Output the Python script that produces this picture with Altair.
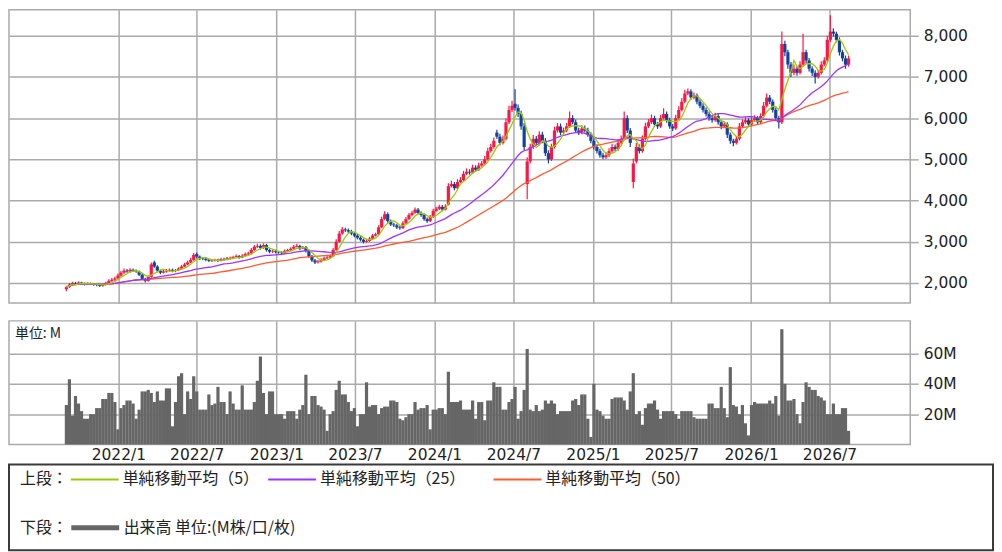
import altair as alt
import pandas as pd

# ---------------- data (weekly candles) ----------------
FIRST_WEEK = "2021-09-03"

OPEN = [
    1850, 1900, 1960, 2000, 1990, 2010, 1980, 1970, 1990, 1980,
    1960, 1950, 1930, 1960, 2000, 2050, 2080, 2110, 2180, 2250,
    2300, 2280, 2320, 2300, 2280, 2200, 2100, 2050, 2150, 2500,
    2400, 2300, 2250, 2280, 2300, 2320, 2290, 2310, 2350, 2400,
    2450, 2500, 2560, 2700, 2640, 2600, 2590, 2560, 2540, 2550,
    2560, 2540, 2580, 2570, 2600, 2610, 2630, 2650, 2620, 2660,
    2700, 2720, 2800, 2880, 2900, 2850, 2920, 2800, 2760, 2770,
    2750, 2740, 2720, 2780, 2800, 2830, 2880, 2900, 2840, 2870,
    2780, 2650, 2550, 2500, 2520, 2560, 2600, 2620, 2650, 2800,
    3000, 3200, 3300, 3280, 3250, 3200, 3150, 3100, 3050, 3000,
    3020, 3080, 3150, 3180, 3350, 3550, 3670, 3500, 3420, 3400,
    3350, 3330, 3450, 3550, 3650, 3700, 3780, 3700, 3650, 3550,
    3500, 3600, 3750, 3800, 3850, 3780, 3900, 4350, 4400, 4300,
    4450, 4500, 4650, 4700, 4680, 4800, 4750, 4850, 4900, 5000,
    5200, 5300, 5650, 5550, 5400, 5500, 5900, 6200, 6350, 6250,
    6100, 5800, 4400, 4950, 5300, 5500, 5400, 5600, 5450, 5150,
    5000, 5300, 5700, 5800, 5650, 5700, 5800, 6000, 5900, 5700,
    5650, 5750, 5700, 5600, 5450, 5300, 5200, 5100, 5050, 5100,
    5200, 5300, 5250, 5400, 5500, 6000, 5700, 4450, 4950, 5300,
    5200, 5500, 5800, 5900, 6000, 5850, 5800, 6000, 6100, 5950,
    5800, 5750, 6000, 6200, 6400, 6600, 6650, 6500, 6550, 6400,
    6300, 6200, 6100, 6000, 5950, 6050, 5900, 5800, 5850, 5600,
    5450, 5400, 5500, 5800, 5900, 5950, 5850, 5950, 6000, 5900,
    6050, 6300, 6500, 6400, 6200, 6000, 5900, 7800, 7600, 7300,
    7100, 7200, 7100, 7300, 7600, 7400, 7200, 7100, 7000, 7100,
    7300, 7400, 7900, 8100, 8050, 7900, 7600, 7450, 7300,
]

HIGH = [
    1930, 2000, 2030, 2030, 2040, 2030, 2010, 2020, 2010, 2000,
    1990, 1980, 1990, 2030, 2090, 2120, 2150, 2230, 2290, 2350,
    2340, 2360, 2350, 2330, 2300, 2230, 2130, 2190, 2500, 2540,
    2430, 2330, 2320, 2340, 2350, 2350, 2340, 2380, 2440, 2490,
    2540, 2610, 2730, 2740, 2670, 2630, 2620, 2590, 2580, 2590,
    2590, 2610, 2610, 2630, 2640, 2660, 2690, 2680, 2700, 2740,
    2760, 2850, 2920, 2950, 2940, 2960, 2950, 2830, 2800, 2800,
    2780, 2770, 2810, 2830, 2870, 2920, 2950, 2930, 2900, 2900,
    2810, 2680, 2580, 2560, 2600, 2640, 2660, 2690, 2850, 3060,
    3260, 3360, 3340, 3320, 3290, 3240, 3190, 3140, 3080, 3060,
    3120, 3190, 3220, 3400, 3610, 3740, 3710, 3540, 3460, 3440,
    3390, 3500, 3600, 3700, 3750, 3830, 3820, 3740, 3690, 3590,
    3650, 3800, 3850, 3900, 3890, 3910, 4420, 4480, 4450, 4520,
    4570, 4720, 4780, 4760, 4870, 4860, 4920, 4960, 5080, 5280,
    5380, 5530, 5720, 5620, 5580, 5990, 6300, 6420, 6700, 6330,
    6180, 5880, 5050, 5380, 5590, 5570, 5680, 5670, 5520, 5220,
    5380, 5790, 5880, 5870, 5770, 5880, 6160, 6070, 5970, 5770,
    5830, 5820, 5770, 5660, 5510, 5360, 5260, 5160, 5170, 5270,
    5370, 5360, 5480, 5580, 6160, 6070, 5760, 5020, 5400, 5360,
    5580, 5890, 5980, 6090, 6060, 5910, 6080, 6240, 6160, 6010,
    5860, 6080, 6290, 6490, 6690, 6720, 6700, 6620, 6600, 6460,
    6360, 6260, 6160, 6060, 6130, 6110, 5960, 5920, 5900, 5650,
    5500, 5570, 5880, 5970, 6030, 6000, 6020, 6070, 6050, 6120,
    6390, 6600, 6560, 6450, 6260, 6060, 8100, 7880, 7660, 7360,
    7300, 7260, 7380, 8050, 7660, 7460, 7260, 7160, 7170, 7380,
    7480, 8000, 8500, 8180, 8100, 7960, 7660, 7520, 7520,
]

LOW = [
    1800, 1880, 1940, 1960, 1960, 1950, 1940, 1950, 1950, 1930,
    1920, 1900, 1910, 1940, 1980, 2020, 2050, 2090, 2150, 2220,
    2250, 2250, 2270, 2250, 2170, 2070, 2010, 2030, 2130, 2370,
    2260, 2210, 2230, 2250, 2270, 2260, 2260, 2290, 2330, 2380,
    2430, 2480, 2540, 2600, 2560, 2550, 2530, 2510, 2510, 2520,
    2510, 2520, 2540, 2550, 2570, 2590, 2610, 2590, 2600, 2640,
    2680, 2700, 2780, 2850, 2810, 2830, 2760, 2720, 2730, 2720,
    2710, 2690, 2700, 2760, 2780, 2810, 2860, 2800, 2820, 2740,
    2610, 2510, 2460, 2470, 2500, 2540, 2580, 2600, 2630, 2780,
    2980, 3170, 3240, 3210, 3160, 3110, 3060, 3010, 2960, 2980,
    3000, 3060, 3130, 3160, 3330, 3520, 3460, 3380, 3360, 3310,
    3290, 3310, 3430, 3530, 3620, 3680, 3660, 3610, 3510, 3460,
    3480, 3580, 3730, 3770, 3740, 3760, 3880, 4320, 4250, 4270,
    4420, 4470, 4620, 4630, 4650, 4700, 4720, 4820, 4870, 4970,
    5160, 5260, 5500, 5340, 5360, 5460, 5860, 6150, 6180, 6030,
    5720, 5220, 4030, 4900, 5250, 5340, 5360, 5390, 5080, 4900,
    4960, 5260, 5650, 5590, 5610, 5660, 5760, 5850, 5640, 5590,
    5610, 5650, 5550, 5390, 5240, 5140, 5040, 5000, 5010, 5060,
    5160, 5200, 5210, 5360, 5460, 5640, 5300, 4300, 4900, 5140,
    5160, 5460, 5760, 5860, 5790, 5740, 5760, 5960, 5890, 5740,
    5690, 5710, 5960, 6160, 6360, 6560, 6440, 6460, 6340, 6240,
    6140, 6040, 5940, 5890, 5910, 5840, 5730, 5760, 5520, 5380,
    5320, 5360, 5460, 5760, 5860, 5790, 5810, 5910, 5840, 5860,
    6010, 6260, 6340, 6140, 5940, 5750, 5860, 7500, 7200, 7000,
    7040, 7030, 7060, 7250, 7330, 7130, 7020, 6840, 6960, 7060,
    7260, 7360, 7850, 7980, 7840, 7520, 7380, 7200, 7250,
]

CLOSE = [
    1900, 1960, 2000, 1990, 2010, 1980, 1970, 1990, 1980, 1960,
    1950, 1930, 1960, 2000, 2050, 2080, 2110, 2180, 2250, 2300,
    2280, 2320, 2300, 2280, 2200, 2100, 2050, 2150, 2450, 2400,
    2300, 2250, 2280, 2300, 2320, 2290, 2310, 2350, 2400, 2450,
    2500, 2560, 2680, 2640, 2600, 2590, 2560, 2540, 2550, 2560,
    2540, 2580, 2570, 2600, 2610, 2630, 2650, 2620, 2660, 2700,
    2720, 2800, 2880, 2900, 2850, 2920, 2800, 2760, 2770, 2750,
    2740, 2720, 2780, 2800, 2830, 2880, 2900, 2840, 2870, 2780,
    2650, 2550, 2500, 2520, 2560, 2600, 2620, 2650, 2800, 3000,
    3200, 3300, 3280, 3250, 3200, 3150, 3100, 3050, 3000, 3020,
    3080, 3150, 3180, 3350, 3550, 3670, 3500, 3420, 3400, 3350,
    3330, 3450, 3550, 3650, 3700, 3780, 3700, 3650, 3550, 3500,
    3600, 3750, 3800, 3850, 3780, 3850, 4350, 4400, 4300, 4450,
    4500, 4650, 4700, 4680, 4800, 4750, 4850, 4900, 5000, 5200,
    5300, 5450, 5550, 5400, 5500, 5900, 6200, 6300, 6250, 6100,
    5800, 5300, 4950, 5300, 5500, 5400, 5600, 5450, 5150, 5000,
    5300, 5700, 5800, 5650, 5700, 5800, 6000, 5900, 5700, 5650,
    5750, 5700, 5600, 5450, 5300, 5200, 5100, 5050, 5100, 5200,
    5300, 5250, 5400, 5500, 6000, 5700, 5400, 4900, 5300, 5200,
    5500, 5800, 5900, 6000, 5850, 5800, 6000, 6100, 5950, 5800,
    5750, 6000, 6200, 6400, 6600, 6650, 6500, 6550, 6400, 6300,
    6200, 6100, 6000, 5950, 6050, 5900, 5800, 5850, 5600, 5450,
    5400, 5500, 5800, 5900, 5950, 5850, 5950, 6000, 5900, 6050,
    6300, 6500, 6400, 6200, 6000, 5900, 7800, 7600, 7300, 7100,
    7200, 7100, 7300, 7600, 7400, 7200, 7100, 7000, 7100, 7300,
    7400, 7900, 8100, 8050, 7900, 7600, 7450, 7300, 7450,
]

# weekly volume, millions
VOLUME = [
    26, 43, 19, 32, 27, 22, 17, 17, 20, 20,
    24, 24, 30, 30, 34, 34, 28, 10, 24, 26,
    29, 29, 27, 17, 23, 35, 35, 36, 34, 28,
    35, 29, 29, 37, 37, 12, 28, 45, 47, 20,
    35, 30, 45, 35, 23, 23, 23, 33, 26, 27,
    38, 28, 28, 20, 35, 27, 23, 23, 39, 23,
    23, 23, 28, 42, 58, 34, 20, 35, 35, 20,
    20, 20, 17, 22, 22, 22, 17, 23, 26, 46,
    20, 32, 32, 26, 25, 23, 9, 20, 22, 36,
    42, 33, 33, 28, 22, 24, 12, 20, 20, 41,
    25, 26, 26, 20, 24, 25, 25, 29, 29, 28,
    17, 16, 18, 20, 20, 28, 23, 24, 24, 26,
    10, 23, 23, 24, 24, 20, 48, 28, 28, 28,
    29, 23, 23, 23, 29, 17, 28, 28, 16, 29,
    29, 41, 38, 38, 23, 23, 28, 30, 38, 17,
    22, 36, 63, 23, 22, 26, 22, 23, 29, 27,
    29, 27, 20, 22, 22, 22, 22, 29, 30, 26,
    33, 33, 17, 5, 40, 23, 22, 19, 17, 17,
    30, 31, 31, 31, 29, 23, 35, 47, 20, 22,
    13, 24, 27, 27, 29, 23, 17, 22, 22, 22,
    22, 20, 17, 22, 22, 22, 22, 18, 17, 17,
    17, 17, 27, 27, 24, 24, 38, 24, 18, 51,
    26, 25, 20, 26, 14, 6, 26, 28, 27, 27,
    27, 27, 29, 27, 32, 19, 76, 40, 29, 29,
    30, 20, 14, 28, 41, 38, 36, 36, 32, 31,
    29, 20, 20, 27, 20, 20, 24, 24, 9,
]

TICK_MONTHS = [(2022, 1), (2022, 7), (2023, 1), (2023, 7), (2024, 1),
               (2024, 7), (2025, 1), (2025, 7), (2026, 1), (2026, 7)]
PRICE_TICKS = [2000, 3000, 4000, 5000, 6000, 7000, 8000]
VOL_TICKS = [20, 40, 60]
MA_NAMES = ["単純移動平均（5）", "単純移動平均（25）", "単純移動平均（50）"]
VOL_NAME = "出来高 単位:(M株/口/枚)"

# ---------------- styles ----------------
UP = "#ff1446"
DOWN = "#15409c"
MA_COLORS = ["#99cc00", "#a033ff", "#ff5a30"]
VOL_COLOR = "#666666"
GRID = "#aaaaaa"
TXT = "#222222"
LAT = "DejaVu Sans"
CJK = "Noto Sans CJK JP"

dates = pd.date_range(FIRST_WEEK, periods=len(CLOSE), freq="7D").strftime("%Y/%m/%d")
df = pd.DataFrame({
    "date": list(dates), "open": OPEN, "high": HIGH, "low": LOW,
    "close": CLOSE, "volume": VOLUME,
})

xscale = alt.Scale(domain=[alt.DateTime(year=2021, month=5, date=5),
                           alt.DateTime(year=2026, month=12, date=23)], nice=False)
tick_values = [alt.DateTime(year=y, month=m, date=1) for y, m in TICK_MONTHS]

x_price = alt.X("date:T", scale=xscale, title=None,
                axis=alt.Axis(values=tick_values, grid=True, labels=False, ticks=False,
                              domain=False, gridColor=GRID, gridWidth=1.5))
price_axis = alt.Axis(orient="right", values=PRICE_TICKS, format=",d", grid=True,
                      gridColor=GRID, gridWidth=1.5, tickColor=GRID, tickWidth=1.5,
                      tickSize=8, domain=False, labelFont=LAT, labelFontSize=15.5,
                      labelColor=TXT, labelPadding=5)
yscale = alt.Scale(domain=[1516, 8629], nice=False, zero=False)

candle_color = alt.condition("datum.close >= datum.open", alt.value(UP), alt.value(DOWN))

base = alt.Chart(df)
wicks = base.mark_rule(strokeWidth=1.2).encode(
    x=x_price,
    y=alt.Y("low:Q", scale=yscale, axis=price_axis, title=None),
    y2="high:Q",
    color=candle_color,
)
bodies = base.mark_bar(size=3.2).encode(
    x=x_price,
    y=alt.Y("open:Q", title=None),
    y2="close:Q",
    color=candle_color,
)
ma = (base
      .transform_window(ma5="mean(close)", frame=[-4, 0], sort=[alt.SortField("date")])
      .transform_window(ma25="mean(close)", frame=[-24, 0], sort=[alt.SortField("date")])
      .transform_window(ma50="mean(close)", frame=[-49, 0], sort=[alt.SortField("date")]))
line50 = ma.mark_line(color=MA_COLORS[2], strokeWidth=1.3).encode(x=x_price, y=alt.Y("ma50:Q", title=None))
line25 = ma.mark_line(color=MA_COLORS[1], strokeWidth=1.3).encode(x=x_price, y=alt.Y("ma25:Q", title=None))
line5 = ma.mark_line(color=MA_COLORS[0], strokeWidth=1.3).encode(x=x_price, y=alt.Y("ma5:Q", title=None))

price = alt.layer(wicks, bodies, line50, line25, line5).properties(
    width=904, height=294,
    view=alt.ViewBackground(stroke=GRID, strokeWidth=1.5),
)

vol = alt.Chart(df).mark_bar(size=3.2, color=VOL_COLOR).encode(
    x=alt.X("date:T", scale=xscale, title=None,
            axis=alt.Axis(values=tick_values, format="%Y/%-m", grid=True, gridColor=GRID,
                          gridWidth=1.5, ticks=False, domain=False, labelFont=LAT,
                          labelFontSize=15.5, labelColor=TXT, labelPadding=3,
                          labelFlush=False, labelOverlap=False)),
    y=alt.Y("volume:Q", scale=alt.Scale(domain=[0, 81.5], nice=False), title=None,
            axis=alt.Axis(orient="right", values=VOL_TICKS, labelExpr="datum.value + 'M'",
                          grid=True, gridColor=GRID, gridWidth=1.5, tickColor=GRID,
                          tickWidth=1.5, tickSize=8, domain=False, labelFont=LAT,
                          labelFontSize=15.5, labelColor=TXT, labelPadding=5)),
).properties(
    width=904, height=124,
    view=alt.ViewBackground(stroke=GRID, strokeWidth=1.5),
    title=alt.TitleParams("単位: M", anchor="start", orient="top", offset=-20, dx=6,
                          font=CJK, fontSize=14, fontWeight="normal", color=TXT),
)

# ---------------- legend box (real Vega legends, one per entry) ----------------
SYM = "M-4,0H4"
leg_common = dict(
    orient="none", direction="horizontal", titleOrient="left",
    titleAnchor="middle", titleBaseline="middle",
    symbolType=SYM, symbolSize=144, symbolOpacity=1,
    labelFont=CJK, labelFontSize=16, labelColor=TXT, labelLimit=400,
    titleFont=CJK, titleFontSize=16, titleFontWeight="normal", titleColor=TXT,
    titlePadding=18, labelOffset=20, padding=0,
)


def legend_layer(name, color, title, lx, ly, sw):
    leg = alt.Legend(title=title, legendX=lx, legendY=ly, symbolStrokeWidth=sw, **leg_common)
    return alt.Chart(pd.DataFrame({"item": [name]})).mark_point(opacity=0).encode(
        color=alt.Color("item:N", scale=alt.Scale(domain=[name], range=[color]), legend=leg)
    )


legend_panel = (alt.layer(
    legend_layer(MA_NAMES[0], MA_COLORS[0], "上段：", 11, 7, 2),
    legend_layer(MA_NAMES[1], MA_COLORS[1], None, 276, 7, 2),
    legend_layer(MA_NAMES[2], MA_COLORS[2], None, 502, 7, 2),
    legend_layer(VOL_NAME, VOL_COLOR, "下段：", 11, 55, 5),
).resolve_scale(color="independent").resolve_legend(color="independent")
 .properties(width=987, height=86,
             view=alt.ViewBackground(stroke="#3a3a3a", strokeWidth=2)))

chart = alt.vconcat(
    alt.vconcat(price, vol, spacing=16),
    legend_panel,
    spacing=-3,
).properties(padding=0).configure_view(stroke="transparent")

chart.save("out.html", embed_options={"renderer": "svg", "actions": False})
